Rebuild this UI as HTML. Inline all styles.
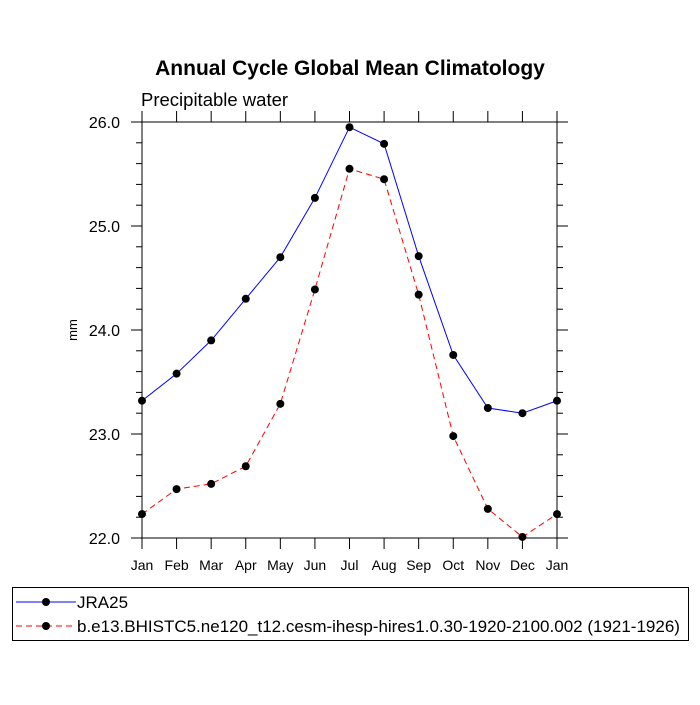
<!DOCTYPE html>
<html><head><meta charset="utf-8"><style>
body{margin:0;background:#fff;}
svg text{font-family:"Liberation Sans",sans-serif;}
</style></head><body>
<svg width="700" height="700" xmlns="http://www.w3.org/2000/svg">
<text x="350" y="75" text-anchor="middle" font-size="21" font-weight="bold">Annual Cycle Global Mean Climatology</text>
<text x="141" y="106" font-size="18.5">Precipitable water</text>
<text transform="translate(77,330) rotate(-90)" text-anchor="middle" font-size="13">mm</text>
<g id="axes"></g>
<g id="series"></g>
<rect x="12.5" y="587.5" width="676" height="53" fill="none" stroke="#000"/>
<g>
<line x1="16" y1="602" x2="76" y2="602" stroke="#00f" stroke-width="1"/>
<circle cx="46" cy="602" r="4" fill="#000"/>
<text x="77" y="608" font-size="17">JRA25</text></g>
<g>
<line x1="16" y1="626" x2="76" y2="626" stroke="#f00" stroke-width="1" stroke-dasharray="6,4"/>
<circle cx="46" cy="626" r="4" fill="#000"/>
<text x="77" y="632" font-size="17">b.e13.BHISTC5.ne120_t12.cesm-ihesp-hires1.0.30-1920-2100.002 (1921-1926)</text></g>
</svg>
<script>
const months=["Jan","Feb","Mar","Apr","May","Jun","Jul","Aug","Sep","Oct","Nov","Dec","Jan"];
const jra25=[23.32,23.58,23.9,24.3,24.7,25.27,25.95,25.79,24.71,23.76,23.25,23.2,23.32];
const model=[22.23,22.47,22.52,22.69,23.29,24.39,25.55,25.45,24.34,22.98,22.28,22.01,22.23];
const yTicks=[22.0,23.0,24.0,25.0,26.0];
const L=142,R=557,T=122,B=538,ymin=22,ymax=26;
const NS="http://www.w3.org/2000/svg";
const xs=i=>L+(R-L)*i/(months.length-1);
const ys=v=>B-(v-ymin)/(ymax-ymin)*(B-T);
function mk(tag,at,parent){const e=document.createElementNS(NS,tag);for(const k in at)e.setAttribute(k,at[k]);parent.appendChild(e);return e;}
const ax=document.getElementById('axes');
const frame=mk('rect',{x:L,y:T,width:R-L,height:B-T,fill:'none',stroke:'#000','stroke-width':1},ax);


months.forEach((m,i)=>{
 const x=xs(i);
 mk('line',{x1:x,y1:B,x2:x,y2:B+11,stroke:'#000'},ax);
 mk('line',{x1:x,y1:T,x2:x,y2:T-11,stroke:'#000'},ax);
 const t=mk('text',{x:x,y:B+32,'text-anchor':'middle','font-size':14},ax);
 t.textContent=m;
 
 
});
for(let v=ymin;v<=ymax+1e-9;v+=0.2){
 const y=ys(v);const major=Math.abs(v-Math.round(v))<1e-6;const len=major?11:6;
 mk('line',{x1:L,y1:y,x2:L-len,y2:y,stroke:'#000'},ax);
 mk('line',{x1:R,y1:y,x2:R+len,y2:y,stroke:'#000'},ax);
}
yTicks.forEach(v=>{
 const t=mk('text',{x:L-22,y:ys(v)+6,'text-anchor':'end','font-size':16},ax);
 t.textContent=v.toFixed(1);
 
 
});
const sg=document.getElementById('series');
function draw(data,color,dash,name){
 const g=mk('g',{},sg);
 
 
 const p=mk('polyline',{points:data.map((v,i)=>xs(i)+','+ys(v)).join(' '),fill:'none',stroke:color,'stroke-width':1},g);
 if(dash)p.setAttribute('stroke-dasharray',dash);
 data.forEach((v,i)=>{
  const c=mk('circle',{cx:xs(i),cy:ys(v),r:4,fill:'#000'},g);
  
  
 });
}
draw(jra25,'#00f',null,'series-jra25');
draw(model,'#f00','6,4','series-model');
</script>
</body></html>
